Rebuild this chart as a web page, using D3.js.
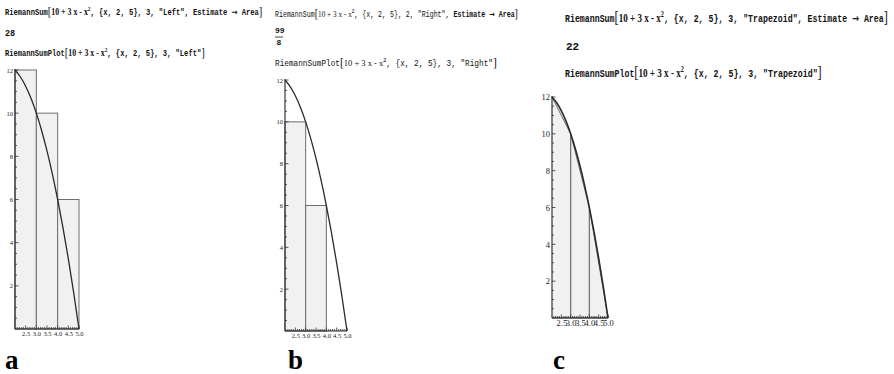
<!DOCTYPE html>
<html>
<head>
<meta charset="utf-8">
<script src="https://cdn.jsdelivr.net/npm/d3@7/dist/d3.min.js"></script>
<style>
  html, body { margin: 0; padding: 0; background: #fff; }
  svg { display: block; }
  .mono { font-family: "Liberation Mono", "DejaVu Sans Mono", monospace; }
  .serif { font-family: "Liberation Serif", "DejaVu Serif", serif; }
  .arrow { font-family: "DejaVu Sans", sans-serif; }
</style>
</head>
<body>
<svg id="chart" width="894" height="374"></svg>
<script>
// Partition of [2, 5] into three subintervals
const xBreaks = [2, 3, 4, 5];
// Rectangle heights for the left and right rules
const leftHeights = [12, 10, 6];
const rightHeights = [10, 6, 0];
// Trapezoid node heights at the breaks
const trapNodes = [12, 10, 6, 0];
// Sampled curve y = 10 + 3x - x^2
const curveX = [2, 2.25, 2.5, 2.75, 3, 3.25, 3.5, 3.75, 4, 4.25, 4.5, 4.75, 5];
const curveY = [12, 11.6875, 11.25, 10.6875, 10, 9.1875, 8.25, 7.1875, 6, 4.6875, 3.25, 1.6875, 0];
// Axis tick labels
const xTickValues = [2.5, 3.0, 3.5, 4.0, 4.5, 5.0];
const xTickLabels = ["2.5", "3.0", "3.5", "4.0", "4.5", "5.0"];
const yTickValues = [2, 4, 6, 8, 10, 12];
const yTickLabels = ["2", "4", "6", "8", "10", "12"];
// Computed estimates
const estimateLeft = "28";
const estimateRight = ["99", "8"];
const estimateTrap = "22";
const panelLetters = ["a", "b", "c"];

const svg = d3.select("#chart");

// Builds an input line: name, big bracket, formula, arguments, closing bracket
function codeLine(x, y, width, size, weight, name, args, option) {
  const g = svg.append("g");
  const t = g.append("text").attr("x", 0).attr("y", 0).attr("fill", "#111")
    .style("font-size", size + "px");
  t.append("tspan").attr("class", "mono").style("font-weight", weight).text(name);
  t.append("tspan").attr("class", "serif").style("font-size", (size * 1.5) + "px")
    .attr("dy", size * 0.1).text("[");
  t.append("tspan").attr("class", "serif").style("font-weight", weight)
    .style("font-size", (size * 1.1) + "px")
    .attr("dy", -size * 0.1).text("10 + 3 x - x");
  t.append("tspan").attr("class", "serif").style("font-size", (size * 0.75) + "px")
    .style("font-weight", "bold").attr("dy", -size * 0.45).text("2");
  t.append("tspan").attr("class", "mono").style("font-weight", weight)
    .attr("dy", size * 0.45).text(", {x, 2, 5}, " + args);
  if (option) {
    t.append("tspan").attr("class", "mono").style("font-weight", weight).text(", ");
    t.append("tspan").attr("class", "mono").style("font-weight", "bold").text("Estimate ");
    t.append("tspan").attr("class", "arrow").style("font-weight", "bold").text("\u2192");
    t.append("tspan").attr("class", "mono").style("font-weight", "bold").text(" Area");
  }
  t.append("tspan").attr("class", "serif").style("font-size", (size * 1.5) + "px")
    .attr("dy", size * 0.1).text("]");
  const w = t.node().getComputedTextLength();
  g.attr("transform", `translate(${x},${y}) scale(${width / w},1)`);
}

function plainText(x, y, size, weight, s) {
  svg.append("text").attr("class", "mono").attr("x", x).attr("y", y)
    .style("font-size", size + "px").style("font-weight", weight)
    .attr("fill", "#111").text(s);
}

// One RiemannSumPlot panel
function panel(opt) {
  const x = d3.scaleLinear().domain([2, 5]).range([opt.x0, opt.x1]);
  const y = d3.scaleLinear().domain([0, 12]).range([opt.y0, opt.y1]);
  const g = svg.append("g");

  if (opt.mode === "trap") {
    const pts = xBreaks.map((b, i) => [x(b), y(trapNodes[i])]);
    pts.push([x(5), y(0)], [x(2), y(0)]);
    g.append("path").attr("d", d3.line()(pts))
      .attr("fill", "#f1f1f1").attr("stroke", "#6e6e6e").attr("stroke-width", 1);
    g.selectAll("line.div").data(xBreaks.slice(1, 3)).join("line")
      .attr("x1", d => x(d)).attr("x2", d => x(d))
      .attr("y1", y(0)).attr("y2", (d, i) => y(trapNodes[i + 1]))
      .attr("stroke", "#6e6e6e").attr("stroke-width", 1.2);
  } else {
    const hs = opt.mode === "left" ? leftHeights : rightHeights;
    g.selectAll("rect").data(hs).join("rect")
      .attr("x", (d, i) => x(xBreaks[i]))
      .attr("y", d => y(d))
      .attr("width", (d, i) => x(xBreaks[i + 1]) - x(xBreaks[i]))
      .attr("height", d => y(0) - y(d))
      .attr("fill", "#f1f1f1").attr("stroke", "#6e6e6e").attr("stroke-width", 1);
  }

  // axes
  const ax = d3.axisBottom(x).tickValues(xTickValues).tickSize(0)
    .tickFormat((d, i) => xTickLabels[i]);
  const xg = g.append("g").attr("transform", `translate(0,${y(0)})`).call(ax);
  xg.select(".domain").remove();
  xg.selectAll("text").attr("class", "serif").attr("dy", "0.55em")
    .style("font-size", opt.fs + "px").attr("fill", "#222").attr("y", 3);

  const ay = d3.axisLeft(y).tickValues(yTickValues).tickSize(0)
    .tickFormat((d, i) => yTickLabels[i]);
  const yg = g.append("g").attr("transform", `translate(${x(2)},0)`).call(ay);
  yg.select(".domain").remove();
  yg.selectAll("text").attr("class", "serif").attr("x", -2)
    .style("font-size", opt.fs + "px").attr("fill", "#222");

  const minorY = d3.range(0.5, 12.01, 0.5);
  g.selectAll("line.ty").data(minorY).join("line")
    .attr("x1", x(2)).attr("x2", d => x(2) + (d % 2 === 0 ? 3.5 : 2))
    .attr("y1", d => y(d)).attr("y2", d => y(d))
    .attr("stroke", "#333").attr("stroke-width", 0.8);
  const minorX = d3.range(2.1, 5.001, 0.1);
  g.selectAll("line.tx").data(minorX).join("line")
    .attr("x1", d => x(d)).attr("x2", d => x(d))
    .attr("y1", y(0)).attr("y2", d => y(0) - (Math.abs(d * 2 - Math.round(d * 2)) < 1e-6 ? 3.5 : 2))
    .attr("stroke", "#333").attr("stroke-width", 0.8);

  g.append("line").attr("x1", x(2)).attr("x2", x(2)).attr("y1", y(0)).attr("y2", y(12) - 1)
    .attr("stroke", "#222").attr("stroke-width", 1.1);
  g.append("line").attr("x1", x(2)).attr("x2", x(5)).attr("y1", y(0)).attr("y2", y(0))
    .attr("stroke", "#222").attr("stroke-width", 1.1);

  // curve
  g.append("path")
    .attr("d", d3.line().x(d => x(d[0])).y(d => y(d[1])).curve(d3.curveNatural)(curveX.map((v, i) => [v, curveY[i]])))
    .attr("fill", "none").attr("stroke", "#2a2a2a").attr("stroke-width", opt.cw);
}

// Panel a
codeLine(5, 15, 258, 8.5, "bold", "RiemannSum", "3, \"Left\"", true);
plainText(5, 36, 8.5, "bold", estimateLeft);
codeLine(5, 56, 200, 8.5, "bold", "RiemannSumPlot", "3, \"Left\"", false);
panel({ x0: 15, x1: 79, y0: 329, y1: 70, mode: "left", fs: 6.5, cw: 1.3 });

// Panel b
codeLine(275, 17, 243, 8.3, "normal", "RiemannSum", "2, \"Right\"", true);
plainText(275, 33, 8, "bold", estimateRight[0]);
svg.append("line").attr("x1", 275).attr("x2", 283).attr("y1", 37).attr("y2", 37)
  .attr("stroke", "#1a1a1a").attr("stroke-width", 0.8);
plainText(276.5, 45, 8, "bold", estimateRight[1]);
codeLine(275, 66, 222, 8.3, "normal", "RiemannSumPlot", "3, \"Right\"", false);
panel({ x0: 285, x1: 347, y0: 331, y1: 80, mode: "right", fs: 6.5, cw: 1.3 });

// Panel c
codeLine(565, 22, 323, 11, "bold", "RiemannSum", "3, \"Trapezoid\"", true);
plainText(566, 50, 11, "bold", estimateTrap);
codeLine(565, 77, 257, 11, "bold", "RiemannSumPlot", "3, \"Trapezoid\"", false);
panel({ x0: 552, x1: 608, y0: 318, y1: 97, mode: "trap", fs: 8.5, cw: 1.6 });

// Panel letters
const letterX = [5, 288, 553];
svg.selectAll("text.letter").data(panelLetters).join("text")
  .attr("class", "serif letter")
  .attr("x", (d, i) => letterX[i]).attr("y", 369)
  .style("font-size", "27px").style("font-weight", "bold").attr("fill", "#000")
  .text(d => d);
</script>
</body>
</html>
